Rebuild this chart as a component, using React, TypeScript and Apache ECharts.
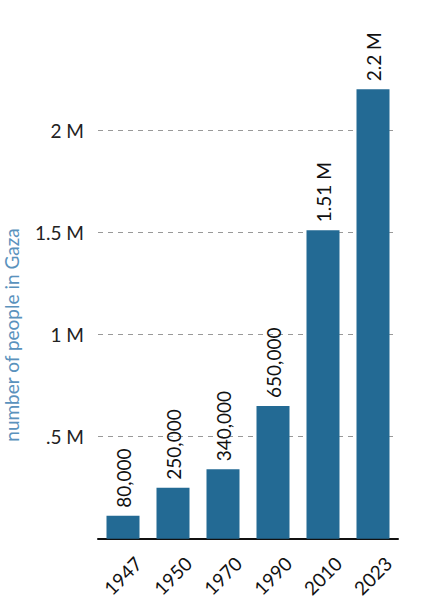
import React, { useEffect, useRef } from "react";
import * as echarts from "echarts";

const years = ["1947", "1950", "1970", "1990", "2010", "2023"];
const population = [80000, 250000, 340000, 650000, 1510000, 2200000];
const gridValues = [500000, 1000000, 1500000, 2000000];
const yTickLabels: Record<number, string> = {
  500000: ".5 M",
  1000000: "1 M",
  1500000: "1.5 M",
  2000000: "2 M",
};

const FONT = "Lato, 'Noto Sans', sans-serif";

function fmtBar(v: number): string {
  if (v >= 1000000) {
    const m = v / 1000000;
    return `${parseFloat(m.toFixed(2))} M`;
  }
  return v.toLocaleString("en-US");
}

export default function App() {
  const ref = useRef<HTMLDivElement>(null);
  useEffect(() => {
    if (!ref.current) return;
    const chart = echarts.init(ref.current, undefined, { renderer: "svg" });
    chart.setOption({
      animation: false,
      backgroundColor: "#ffffff",
      grid: { left: 98, right: 33, top: 28, bottom: 60, containLabel: false },
      graphic: [
        {
          type: "text",
          x: 11,
          y: 335,
          rotation: Math.PI / 2,
          style: {
            text: "number of people in Gaza",
            fill: "#5a92bd",
            font: `19px ${FONT}`,
            align: "center",
            verticalAlign: "middle",
          },
        },
      ],
      xAxis: {
        type: "category",
        data: years,
        axisLine: { show: true, lineStyle: { color: "#111", width: 2 } },
        axisTick: { show: false },
        axisLabel: {
          rotate: 45,
          color: "#111",
          fontSize: 19,
          fontFamily: FONT,
          margin: 6,
          interval: 0,
          verticalAlign: "top",
          padding: [12, 0, 0, 0],
        },
      },
      yAxis: {
        type: "value",
        min: 0,
        max: 2500000,
        interval: 500000,
        axisLine: { show: false },
        axisTick: { show: false },
        splitLine: { show: false },
        axisLabel: {
          color: "#222",
          fontSize: 19,
          fontFamily: FONT,
          margin: 14,
          formatter: (v: number) => yTickLabels[v] || "",
        },
      },
      series: [
        {
          type: "bar",
          data: population,
          barWidth: 33,
          barMinHeight: 23,
          itemStyle: { color: "#236a94" },
          label: {
            show: true,
            position: "top",
            rotate: 90,
            align: "left",
            verticalAlign: "middle",
            distance: 8,
            color: "#111",
            fontSize: 19,
            fontFamily: FONT,
            formatter: (p: any) => fmtBar(p.value),
          },
          markLine: {
            silent: true,
            symbol: ["none", "none"],
            z: 1,
            label: { show: false },
            lineStyle: { color: "#999", type: [5, 5], width: 1 },
            data: gridValues.map((v) => ({ yAxis: v })),
          },
        },
      ],
    });
    return () => chart.dispose();
  }, []);
  return (
    <div
      ref={ref}
      style={{ position: "absolute", left: 0, top: 0, width: 431, height: 600 }}
    />
  );
}
